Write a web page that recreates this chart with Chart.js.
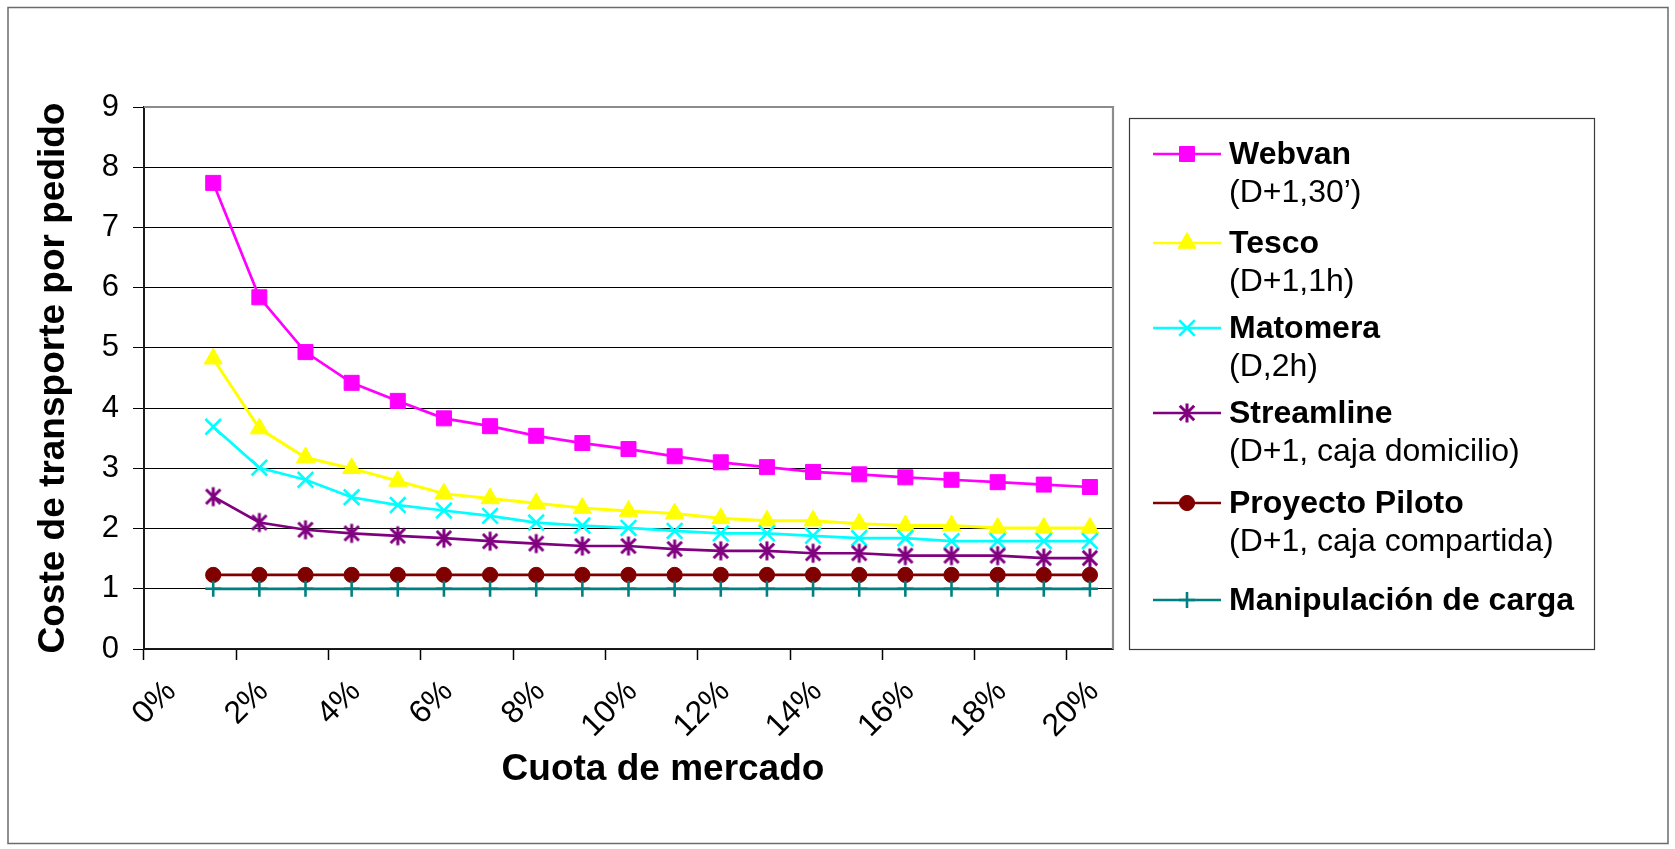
<!DOCTYPE html>
<html><head><meta charset="utf-8">
<script src="https://cdn.jsdelivr.net/npm/chart.js@4/dist/chart.umd.min.js"></script>
<style>html,body{margin:0;padding:0;background:#fff;}#wrap{position:relative;width:1675px;height:849px;}</style>
</head><body><div id="wrap"><canvas id="c" width="1675" height="849"></canvas></div>
<script>
// ---- data ----
const categories = ['0%','1%','2%','3%','4%','5%','6%','7%','8%','9%','10%','11%','12%','13%','14%','15%','16%','17%','18%','19%','20%'];
const seriesNames = ['Webvan','Tesco','Matomera','Streamline','Proyecto Piloto','Manipulación de carga'];
const seriesNotes = ['(D+1,30’)','(D+1,1h)','(D,2h)','(D+1, caja domicilio)','(D+1, caja compartida)',''];
const webvan     = [null,7.74,5.84,4.93,4.42,4.12,3.83,3.70,3.54,3.42,3.32,3.20,3.10,3.02,2.94,2.90,2.85,2.81,2.77,2.73,2.69];
const tesco      = [null,4.82,3.66,3.18,3.00,2.79,2.58,2.50,2.42,2.34,2.29,2.25,2.17,2.13,2.13,2.08,2.05,2.05,2.01,2.01,2.01];
const matomera   = [null,3.69,3.01,2.81,2.52,2.39,2.30,2.21,2.10,2.05,2.01,1.96,1.92,1.92,1.88,1.84,1.84,1.79,1.79,1.79,1.79];
const streamline = [null,2.53,2.10,1.98,1.92,1.88,1.84,1.79,1.75,1.71,1.71,1.66,1.63,1.63,1.59,1.59,1.55,1.55,1.55,1.51,1.51];
const proyecto   = [null,1.23,1.23,1.23,1.23,1.23,1.23,1.23,1.23,1.23,1.23,1.23,1.23,1.23,1.23,1.23,1.23,1.23,1.23,1.23,1.23];
const manipulacion=[null,1.00,1.00,1.00,1.00,1.00,1.00,1.00,1.00,1.00,1.00,1.00,1.00,1.00,1.00,1.00,1.00,1.00,1.00,1.00,1.00];
const yTicks = [0,1,2,3,4,5,6,7,8,9];
const xTitle = 'Cuota de mercado';
const yTitle = 'Coste de transporte por pedido';

// ---- styles ----
const FONT = '"Liberation Sans", Arial, sans-serif';
const colors = ['#FF00FF','#FFFF00','#00FFFF','#800080','#800000','#008080'];

function makeAsterisk(color){
  const s = 24, c = document.createElement('canvas'); c.width = s; c.height = s;
  const g = c.getContext('2d'); g.strokeStyle = color; g.lineWidth = 3;
  const m = s/2, r = 9.5, d = 7.2;
  g.beginPath();
  g.moveTo(m, m-r); g.lineTo(m, m+r);
  g.moveTo(m-d, m-d); g.lineTo(m+d, m+d);
  g.moveTo(m-d, m+d); g.lineTo(m+d, m-d);
  g.stroke();
  return c;
}
const asterisk = makeAsterisk(colors[3]);

const markers = [
  {style:'rect', radius:10.6, bw:1},
  {style:'triangle', radius:10.5, bw:1},
  {style:'crossRot', radius:11, bw:2.6},
  {style:asterisk, radius:10, bw:1},
  {style:'circle', radius:7.6, bw:1},
  {style:'cross', radius:8, bw:2.6}
];
const seriesData = [webvan, tesco, matomera, streamline, proyecto, manipulacion];

const datasets = seriesData.map((d,i)=>({
  label: seriesNames[i],
  data: d,
  borderColor: colors[i],
  backgroundColor: colors[i],
  borderWidth: i===1 ? 3 : 2.7,
  pointStyle: markers[i].style,
  pointRadius: markers[i].radius,
  pointBorderWidth: markers[i].bw,
  pointBackgroundColor: colors[i],
  pointBorderColor: colors[i],
  tension: 0,
  spanGaps: false,
  order: 6 - i
}));

// ---- plugin: frame, plot border, titles, legend ----
const decor = {
  id: 'decor',
  beforeDraw(chart){
    const g = chart.ctx; g.save();
    g.fillStyle = '#fff'; g.fillRect(0,0,chart.width,chart.height);
    g.restore();
  },
  afterDraw(chart){
    const g = chart.ctx, a = chart.chartArea;
    g.save();
    // outer frame
    g.strokeStyle = '#6b6b6b'; g.lineWidth = 1.5;
    g.strokeRect(8, 7.5, 1660, 836);
    // plot area top & right border
    g.strokeStyle = '#8c8c8c'; g.lineWidth = 2.2;
    g.beginPath(); g.moveTo(a.left, a.top); g.lineTo(a.right, a.top); g.lineTo(a.right, a.bottom); g.stroke();
    // axis titles
    g.fillStyle = '#000';
    g.font = 'bold 37px ' + FONT; g.textAlign = 'center'; g.textBaseline = 'middle';
    g.fillText(xTitle, 663, 770);
    g.save(); g.translate(54, (a.top + a.bottom)/2); g.rotate(-Math.PI/2);
    g.fillText(yTitle, 0, 0); g.restore();
    // legend
    g.strokeStyle = '#3a3a3a'; g.lineWidth = 1.2;
    g.strokeRect(1129.5, 118.5, 465, 531);
    const rowsY = [154, 243, 328, 413, 503, 600];
    for (let i = 0; i < seriesNames.length; i++){
      const y = rowsY[i];
      g.strokeStyle = colors[i]; g.lineWidth = 2.7;
      g.beginPath(); g.moveTo(1153, y); g.lineTo(1221, y); g.stroke();
      g.fillStyle = colors[i]; g.strokeStyle = colors[i]; g.lineWidth = markers[i].bw;
      Chart.helpers.drawPoint(g, {pointStyle: markers[i].style, radius: markers[i].radius, rotation: 0, borderWidth: markers[i].bw}, 1187, y);
      g.fillStyle = '#000'; g.textAlign = 'left'; g.textBaseline = 'middle';
      g.font = 'bold 32px ' + FONT;
      g.fillText(seriesNames[i], 1229, y + 1);
      if (seriesNotes[i]) { g.font = '32px ' + FONT; g.fillText(seriesNotes[i], 1229, y + 39); }
    }
    g.restore();
  }
};

new Chart(document.getElementById('c'), {
  type: 'line',
  data: { labels: categories, datasets },
  options: {
    responsive: false, animation: false, devicePixelRatio: 1,
    layout: { padding: { left: 0, right: 562, top: 107, bottom: 0 } },
    plugins: { legend: { display: false }, tooltip: { enabled: false } },
    scales: {
      x: {
        type: 'category', offset: true,
        grid: { offset: true, drawOnChartArea: false, drawTicks: true, tickLength: 11, tickWidth: 1.5,
                tickColor: c => (c.index !== undefined && c.index % 2 === 0) ? '#000' : 'rgba(0,0,0,0)' },
        border: { display: true, color: '#1a1a1a', width: 1.8 },
        ticks: { autoSkip: false, minRotation: 45, maxRotation: 45, color: '#000', padding: 13, labelOffset: 4,
                 font: { family: FONT, size: 32 },
                 callback: function(v, i){ return i % 2 === 0 ? this.getLabelForValue(v) : ''; } },
        afterFit: s => { s.height = 200; }
      },
      y: {
        min: 0, max: 9,
        afterBuildTicks: s => { s.ticks = yTicks.map(v => ({value: v})); },
        ticks: { color: '#000', padding: 14, font: { family: FONT, size: 31 } },
        grid: { color: '#000', lineWidth: 1, drawTicks: true, tickLength: 11, tickColor: '#000' },
        border: { color: '#1a1a1a', width: 2 },
        afterFit: s => { s.width = 144; }
      }
    }
  },
  plugins: [decor]
});
</script></body></html>
